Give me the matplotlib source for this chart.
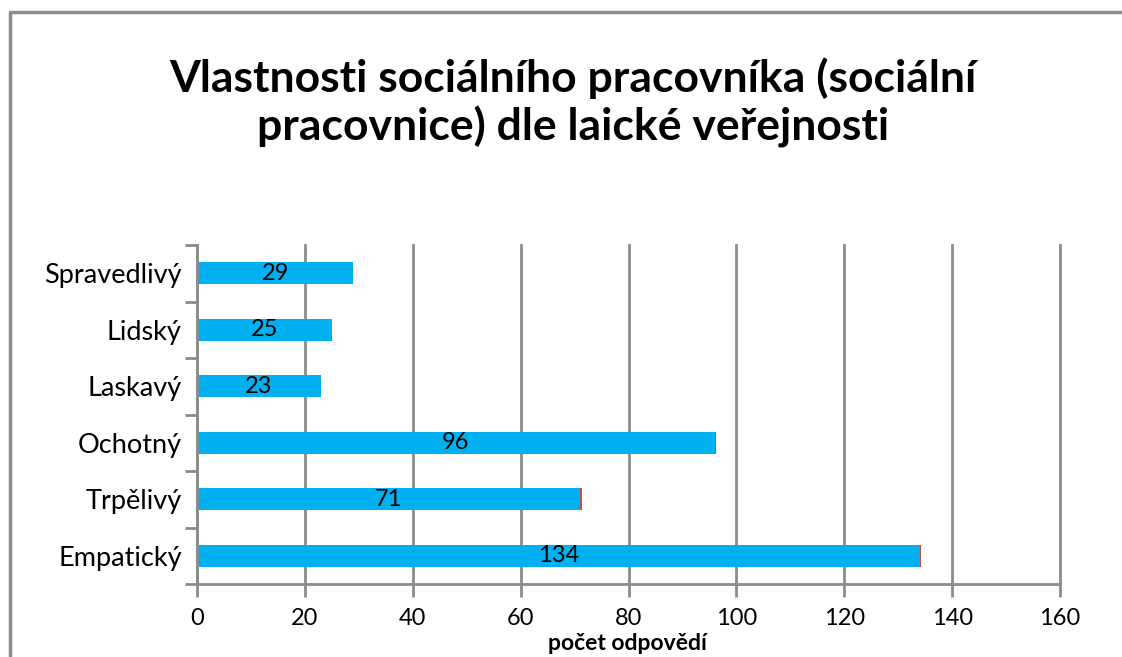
import matplotlib
matplotlib.use("Agg")
import matplotlib.pyplot as plt
from matplotlib.lines import Line2D
import numpy as np

categories = ["Empatický", "Trpělivý", "Ochotný", "Laskavý", "Lidský", "Spravedlivý"]
values = [134, 71, 96, 23, 25, 29]
extra = [0.3, 0.3, 0.3, 0, 0, 0]
x_ticks = [0, 20, 40, 60, 80, 100, 120, 140, 160]

title = "Vlastnosti sociálního pracovníka (sociální\npracovnice) dle laické veřejnosti"
xlabel = "počet odpovědí"

plt.rcParams['font.family'] = ['Lato', 'DejaVu Sans']

W, H = 1122, 657
fig = plt.figure(figsize=(W / 100, H / 100), dpi=100)
fig.patch.set_facecolor("white")

ax = fig.add_axes([197 / W, 1 - 584 / H, (1060 - 197) / W, (584 - 245) / H])

grey = "#8c8c8c"
y = np.arange(len(categories))
bar_h = 0.39
ax.barh(y, values, height=bar_h, color="#00B0F0", zorder=3)
ax.barh(y, extra, left=values, height=bar_h, color="#C0504D", zorder=3)

for yi, v in zip(y, values):
    ax.text(v / 2, yi, str(v), ha="center", va="center", fontsize=17, color="black", zorder=4)

ax.set_xlim(0, 160)
ax.set_ylim(-0.5, len(categories) - 0.5)
ax.set_xticks(x_ticks)
ax.set_xticklabels([str(t) for t in x_ticks], fontsize=17)
ax.set_yticks(y)
ax.set_yticklabels(categories, fontsize=19.5)
ax.set_yticks(np.arange(-0.5, len(categories), 1.0), minor=True)
ax.tick_params(axis="y", which="major", length=0, pad=11)
ax.tick_params(axis="y", which="minor", length=9, width=2, color=grey, direction="out")
ax.tick_params(axis="x", which="major", length=9, width=2, color=grey, direction="out", pad=8)

ax.grid(axis="x", color=grey, linewidth=2, zorder=1)
for gl in ax.get_xgridlines():
    gl.set_clip_on(False)
ax.set_axisbelow(True)
for s in ["top", "right"]:
    ax.spines[s].set_visible(False)
for s in ["left", "bottom"]:
    ax.spines[s].set_color(grey)
    ax.spines[s].set_linewidth(2)
    ax.spines[s].set_zorder(5)

fig.text(573 / W, 1 - 103 / H, title, ha="center", va="center", fontsize=32,
         fontweight="bold", linespacing=1.2)
fig.text(627 / W, 1 - 644 / H, xlabel, ha="center", va="center", fontsize=16.5, fontweight="bold")

# outer chart border (left and top visible)
fig.add_artist(Line2D([10 / W, 10 / W, 1.0], [0.0, 1 - 12 / H, 1 - 12 / H],
                      transform=fig.transFigure, color=grey, linewidth=2.5))

fig.savefig("out.png", dpi=100)
